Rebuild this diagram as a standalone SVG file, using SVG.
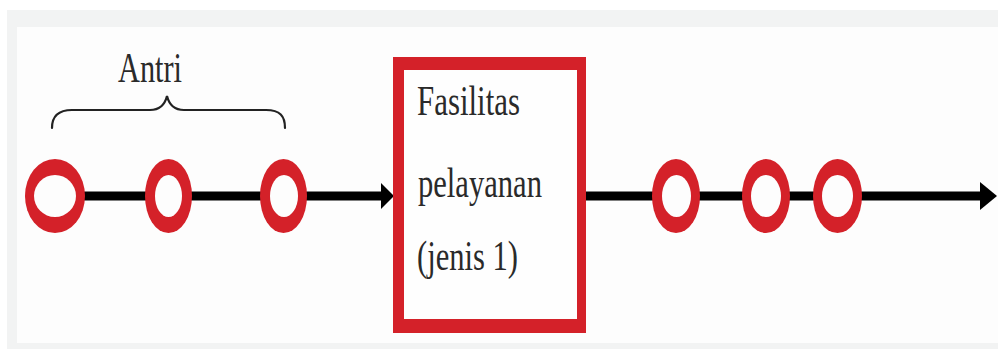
<svg xmlns="http://www.w3.org/2000/svg" width="998" height="349" viewBox="0 0 998 349">
  <defs>
    <style>
      .ring { fill: #d42129; }
      .hole { fill: #fdfdfd; }
      .box { fill: #d42129; fill-rule: evenodd; }
      .flow { stroke: #000; stroke-width: 9; fill: none; }
      .head { fill: #000; }
      .brace { stroke: #222; stroke-width: 2.2; fill: none; stroke-linecap: round; }
      .label { font-family: "Liberation Serif", "Times New Roman", serif; font-size: 42px; fill: #2a2a2a; }
    </style>
  </defs>

  <!-- backdrop frame -->
  <rect x="0" y="0" width="998" height="349" fill="#ffffff"/>
  <rect x="7" y="10" width="991" height="339" fill="#f2f3f3"/>
  <rect x="17" y="27" width="981" height="316" fill="#fdfdfd"/>

  <!-- connectors -->
  <g id="connectors">
    <line class="flow" x1="55" y1="196" x2="384" y2="196"/>
    <path class="head" d="M381,183 L394,196 L381,209 Z"/>
    <line class="flow" x1="586" y1="196" x2="982" y2="196"/>
    <path class="head" d="M980,182 L997,196 L980,210 Z"/>
  </g>

  <!-- queue brace and label -->
  <g id="queue-label">
    <path class="brace" d="M52,128 C52,116 58,110 72,110 L150,110 C160,110 165,104 167,96 C169,104 174,110 184,110 L266,110 C280,110 285,116 285,128"/>
    <text class="label" x="118" y="82" textLength="64" lengthAdjust="spacingAndGlyphs">Antri</text>
  </g>

  <!-- waiting customers -->
  <g id="customer-1">
    <ellipse class="ring" cx="55" cy="196" rx="30" ry="37"/>
    <ellipse class="hole" cx="55" cy="196" rx="21" ry="21"/>
  </g>
  <g id="customer-2">
    <ellipse class="ring" cx="168.5" cy="196" rx="23.5" ry="37"/>
    <ellipse class="hole" cx="168.5" cy="196" rx="13.5" ry="21"/>
  </g>
  <g id="customer-3">
    <ellipse class="ring" cx="283.5" cy="196" rx="23.5" ry="37"/>
    <ellipse class="hole" cx="284" cy="196" rx="14" ry="21"/>
  </g>

  <!-- service facility -->
  <g id="service-facility">
    <rect x="404" y="70" width="173" height="249" fill="#fefefe"/>
    <path class="box" d="M393,57 H586 V333 H393 Z M404,70 V319 H577 V70 Z"/>
    <text class="label" x="417" y="115" textLength="103" lengthAdjust="spacingAndGlyphs">Fasilitas</text>
    <text class="label" x="418" y="197" textLength="124" lengthAdjust="spacingAndGlyphs">pelayanan</text>
    <text class="label" x="417" y="270" textLength="101" lengthAdjust="spacingAndGlyphs">(jenis 1)</text>
  </g>

  <!-- served customers -->
  <g id="customer-4">
    <ellipse class="ring" cx="676" cy="196" rx="24" ry="37"/>
    <ellipse class="hole" cx="676.5" cy="196" rx="14.5" ry="21"/>
  </g>
  <g id="customer-5">
    <ellipse class="ring" cx="766" cy="196" rx="24" ry="37"/>
    <ellipse class="hole" cx="766" cy="196" rx="15" ry="21"/>
  </g>
  <g id="customer-6">
    <ellipse class="ring" cx="837.5" cy="196" rx="24.5" ry="37"/>
    <ellipse class="hole" cx="837.5" cy="196" rx="15.5" ry="21"/>
  </g>
</svg>
